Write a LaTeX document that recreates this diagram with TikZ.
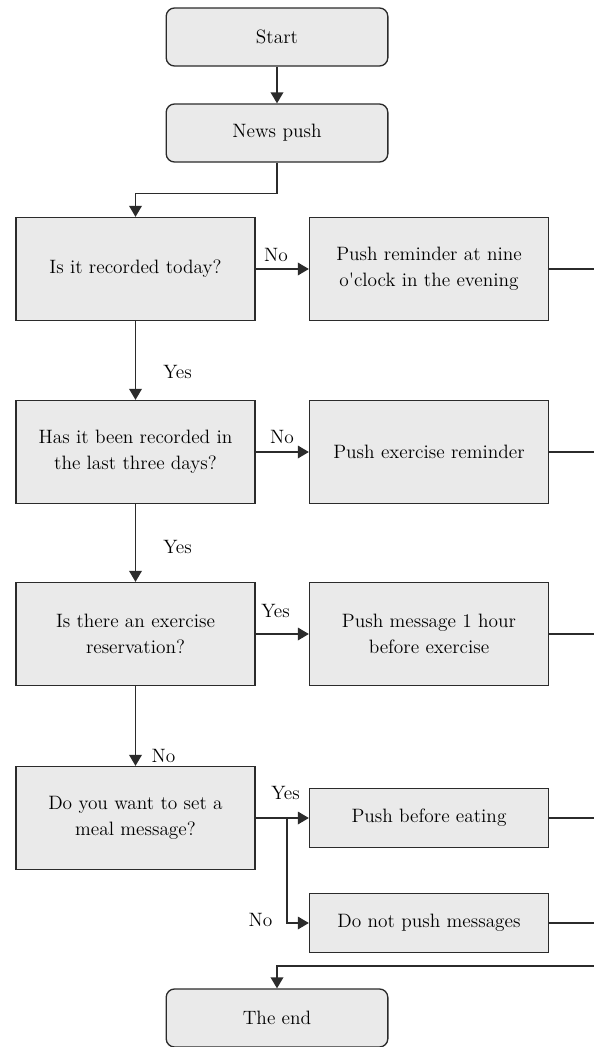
\documentclass[tikz,border=0pt]{standalone}
\usetikzlibrary{arrows.meta}
\definecolor{boxfill}{HTML}{EAEAEA}
\definecolor{edge}{HTML}{2B2B2B}

\begin{document}
\begin{tikzpicture}
  [x=0.6pt,y=-0.6pt,line width=0.8pt,
   font=\fontsize{11.6}{15.6}\selectfont,
   term/.style={draw=edge,fill=boxfill,rounded corners=5pt,minimum width=133pt,minimum height=34.8pt,inner sep=0pt},
   qbox/.style={draw=edge,fill=boxfill,align=center,minimum width=143.4pt,minimum height=61.8pt,inner sep=0pt},
   act/.style={qbox,minimum height=35.4pt},
   lbl/.style={inner sep=0pt},
   arr/.style={draw=edge,-{Triangle[length=6.6pt,width=7.6pt]}}]
  \useasboundingbox (0,0) rectangle (594,1047);

  \node[term] (start) at (277,37) {Start};
  \node[term] (news) at (277,133) {News push};
  \node[qbox] (q1) at (135.5,269) {Is it recorded today?};
  \node[qbox] (p1) at (429,269) {Push reminder at nine\\o\textquotesingle clock in the evening};
  \node[qbox] (q2) at (135.5,452) {Has it been recorded in\\the last three days?};
  \node[qbox] (p2) at (429,452) {Push exercise reminder};
  \node[qbox] (q3) at (135.5,634) {Is there an exercise\\reservation?};
  \node[qbox] (p3) at (429,634) {Push message 1 hour\\before exercise};
  \node[qbox] (q4) at (135.5,818) {Do you want to set a\\meal message?};
  \node[act] (p4) at (429,818) {Push before eating};
  \node[act] (p5) at (429,923) {Do not push messages};
  \node[term] (end) at (277,1018) {The end};

  % branch labels
  \node[lbl] (no1) at (276,255) {No};
  \node[lbl] (yes1) at (177.5,372) {Yes};
  \node[lbl] (no2) at (282,437) {No};
  \node[lbl] (yes2) at (177.5,547) {Yes};
  \node[lbl] (yes3) at (275.5,611) {Yes};
  \node[lbl] (no3) at (163.5,756) {No};
  \node[lbl] (yes4) at (285.5,793) {Yes};
  \node[lbl] (no4) at (260.5,920) {No};

  \coordinate (fork) at (287,818);
  \coordinate (rim) at (594,0);
  \coordinate (back) at (594,966);

  \draw[arr] (start) -- (news);
  \draw[arr] (news.south) -- ++(0,31) -| (q1.north);
  \foreach \from/\to in {q1/p1,q1/q2,q2/p2,q2/q3,q3/p3,q3/q4,q4/p4}
    \draw[arr] (\from) -- (\to);
  \draw[arr] (fork) |- (p5.west);
  \foreach \n in {p1,p2,p3,p4,p5}
    \draw[edge] (\n.east) -- (\n.east -| rim);
  \draw[arr] (back) -| (end.north);

\end{tikzpicture}
\end{document}
